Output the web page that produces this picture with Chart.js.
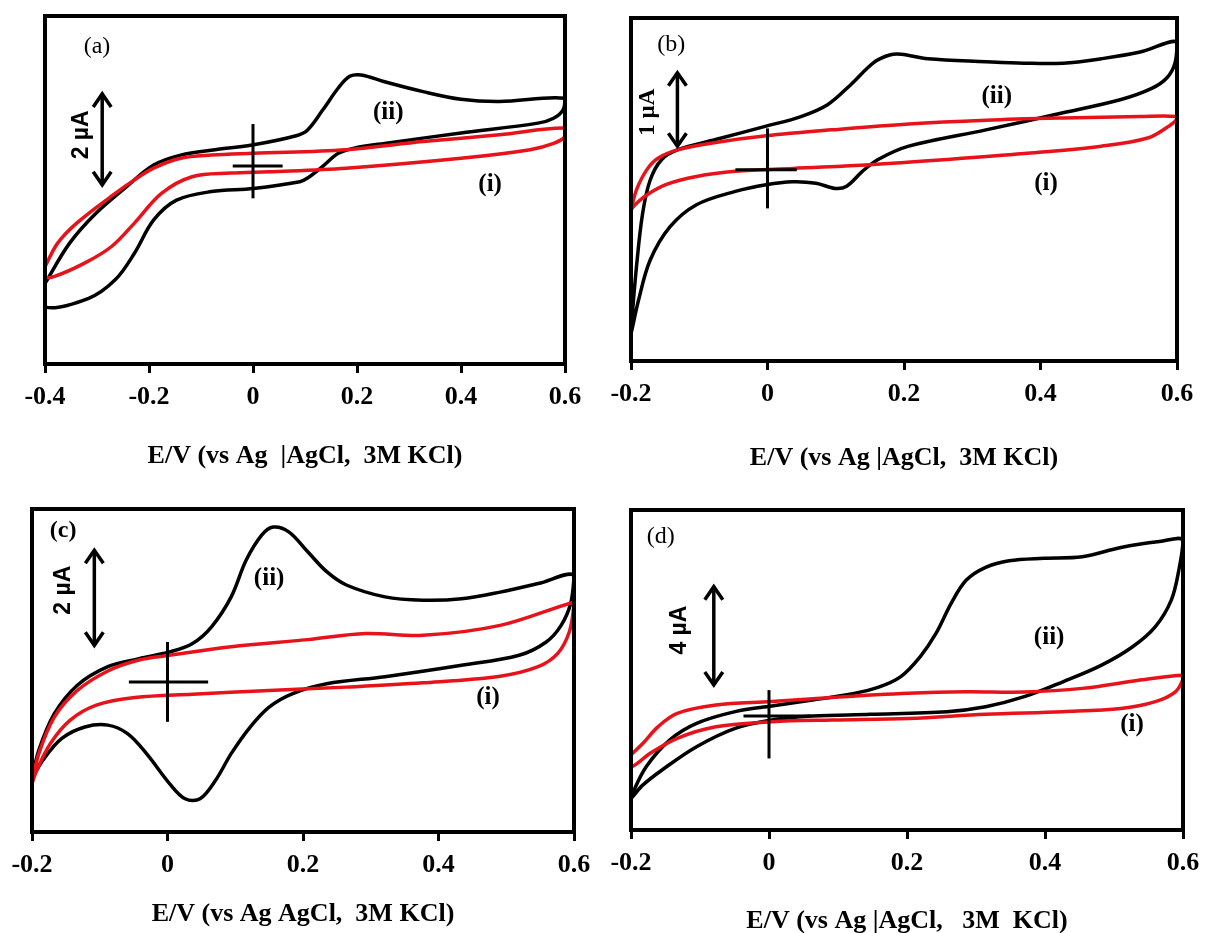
<!DOCTYPE html>
<html>
<head>
<meta charset="utf-8">
<script src="https://cdn.jsdelivr.net/npm/chart.js@4.4.1/dist/chart.umd.min.js"></script>
<style>
  body { margin: 0; background: #fff; width: 1206px; height: 933px; overflow: hidden; position: relative; }
  canvas { position: absolute; }
</style>
</head>
<body>
<canvas id="chartA"></canvas>
<canvas id="chartB"></canvas>
<canvas id="chartC"></canvas>
<canvas id="chartD"></canvas>
<script>
// E in V, I in uA (zero at the cross mark)
const ticksA = [-0.4, -0.2, 0, 0.2, 0.4, 0.6];
const ticksBCD = [-0.2, 0, 0.2, 0.4, 0.6];

// (a)
const aBlackE = [-0.4,-0.353,-0.302,-0.243,-0.191,-0.139,-0.073,0.001,0.083,0.105,0.134,0.164,0.186,0.208,0.253,0.327,0.4,0.474,0.6,
  0.596,0.578,0.548,0.4,0.253,0.193,0.164,0.134,0.105,0.09,0.001,-0.08,-0.147,-0.191,-0.228,-0.265,-0.316,-0.4,-0.4];
const aBlackI = [-2.61,-1.72,-1.05,-0.46,0.02,0.24,0.36,0.47,0.67,0.80,1.24,1.73,1.99,2.02,1.87,1.65,1.48,1.43,1.50,
  1.24,1.06,0.95,0.73,0.50,0.39,0.28,-0.01,-0.27,-0.35,-0.50,-0.57,-0.76,-1.2,-1.94,-2.53,-2.94,-3.13,-2.61];
const aRedE = [-0.4,-0.376,-0.339,-0.265,-0.228,-0.191,-0.139,-0.08,0.001,0.179,0.327,0.474,0.6,
  0.6,0.578,0.533,0.4,0.179,0.031,-0.043,-0.117,-0.176,-0.228,-0.272,-0.324,-0.383,-0.4,-0.4];
const aRedI = [-2.24,-1.72,-1.27,-0.61,-0.31,-0.05,0.17,0.24,0.28,0.36,0.54,0.69,0.84,
  0.65,0.50,0.36,0.17,-0.05,-0.13,-0.16,-0.24,-0.61,-1.27,-1.79,-2.16,-2.46,-2.46,-2.24];

// (b)
const bBlackE = [-0.2,-0.192,-0.183,-0.172,-0.155,-0.132,-0.076,-0.002,0.049,0.088,0.122,0.156,0.179,0.196,0.235,0.32,0.376,0.433,0.489,0.546,0.6,
  0.597,0.585,0.563,0.518,0.433,0.32,0.207,0.162,0.139,0.116,0.099,0.071,0.037,-0.002,-0.047,-0.104,-0.143,-0.172,-0.189,-0.2,-0.2];
const bBlackI = [-2.16,-1.31,-0.59,-0.14,0.14,0.27,0.41,0.59,0.72,0.88,1.15,1.45,1.55,1.56,1.50,1.46,1.44,1.44,1.50,1.59,1.73,
  1.44,1.24,1.10,0.95,0.77,0.54,0.32,0.14,-0.02,-0.22,-0.25,-0.18,-0.16,-0.20,-0.29,-0.47,-0.77,-1.22,-1.76,-2.21,-2.16];
const bRedE = [-0.2,-0.192,-0.177,-0.16,-0.132,-0.076,-0.002,0.094,0.207,0.32,0.433,0.546,0.6,
  0.6,0.588,0.557,0.489,0.376,0.263,0.15,0.037,-0.047,-0.104,-0.149,-0.177,-0.194,-0.2];
const bRedI = [-0.54,-0.27,0.0,0.16,0.27,0.37,0.46,0.54,0.62,0.67,0.70,0.72,0.72,
  0.68,0.59,0.43,0.32,0.22,0.14,0.07,0.02,-0.02,-0.09,-0.20,-0.34,-0.47,-0.54];

// (c)
const cBlackE = [-0.2,-0.19,-0.167,-0.133,-0.088,-0.042,0.003,0.037,0.065,0.094,0.116,0.139,0.156,0.179,0.207,0.235,0.264,0.321,0.377,0.434,0.491,0.547,0.6,
  0.595,0.581,0.559,0.519,0.434,0.321,0.235,0.184,0.15,0.122,0.094,0.071,0.048,0.026,0.003,-0.031,-0.059,-0.088,-0.122,-0.156,-0.184,-0.2];
const cBlackI = [-2.04,-1.44,-0.67,-0.07,0.32,0.49,0.63,0.81,1.16,1.79,2.56,3.09,3.26,3.16,2.74,2.32,2.04,1.79,1.72,1.75,1.89,2.07,2.25,
  1.65,1.19,0.84,0.56,0.35,0.11,-0.04,-0.25,-0.53,-0.95,-1.51,-2.07,-2.46,-2.46,-2.14,-1.51,-1.09,-0.91,-0.95,-1.19,-1.65,-2.04];
const cRedE = [-0.2,-0.19,-0.167,-0.133,-0.088,-0.042,0.003,0.094,0.207,0.292,0.377,0.491,0.6,
  0.6,0.593,0.576,0.547,0.491,0.377,0.264,0.15,0.037,-0.048,-0.105,-0.144,-0.173,-0.193,-0.2];
const cRedI = [-2.14,-1.51,-0.74,-0.18,0.23,0.46,0.56,0.74,0.89,1.02,0.98,1.19,1.68,
  1.61,1.05,0.60,0.32,0.12,-0.02,-0.11,-0.18,-0.26,-0.33,-0.49,-0.81,-1.30,-1.86,-2.14];

// (d)
const dBlackE = [-0.2,-0.178,-0.144,-0.105,-0.049,0.004,0.063,0.119,0.158,0.191,0.219,0.242,0.264,0.286,0.314,0.348,0.398,0.454,0.51,0.566,0.6,
  0.594,0.583,0.56,0.527,0.482,0.426,0.37,0.314,0.258,0.147,0.063,0.004,-0.049,-0.105,-0.155,-0.183,-0.2,-0.2];
const dBlackI = [-3.27,-2.07,-0.98,-0.30,0.18,0.41,0.65,0.90,1.17,1.61,2.42,3.37,4.60,5.55,6.07,6.34,6.44,6.50,6.88,7.12,7.18,
  5.96,4.73,3.65,2.83,2.08,1.40,0.79,0.38,0.18,0.07,0.0,-0.16,-0.50,-1.25,-2.20,-2.82,-3.36,-3.27];
const dRedE = [-0.2,-0.183,-0.161,-0.133,-0.077,0.004,0.091,0.202,0.286,0.37,0.454,0.538,0.6,
  0.6,0.589,0.56,0.51,0.426,0.314,0.202,0.091,0.004,-0.077,-0.133,-0.172,-0.2,-0.2];
const dRedI = [-1.59,-1.12,-0.44,0.11,0.45,0.59,0.76,0.93,0.99,0.98,1.13,1.47,1.67,
  1.50,0.99,0.59,0.31,0.18,0.07,-0.10,-0.16,-0.23,-0.44,-0.91,-1.52,-2.07,-1.59];

const axisTitleA = 'E/V (vs Ag  |AgCl,  3M KCl)';
const axisTitleB = 'E/V (vs Ag |AgCl,  3M KCl)';
const axisTitleC = 'E/V (vs Ag AgCl,  3M KCl)';
const axisTitleD = 'E/V (vs Ag |AgCl,   3M  KCl)';

const serif = '"Liberation Serif", "Times New Roman", serif';
const sans = '"Liberation Sans", Arial, sans-serif';

const panels = [
  { id: 'chartA', L: 45, R: 565, T: 16, B: 364, titleY: 456, xMin: -0.4, yMin: -4.40, yMax: 3.33, ticks: ticksA,
    black: [aBlackE, aBlackI], red: [aRedE, aRedI], title: axisTitleA,
    cross: { x0: -0.039, x1: 0.057, y0: -0.72, y1: 0.93 }, arrow: { x: -0.29, y0: -0.42, y1: 1.6 },
    texts: [
      { t: '(a)', x: -0.3, y: 2.64, font: 'normal 24px ' + serif },
      { t: '(ii)', x: 0.26, y: 1.18, font: 'bold 25px ' + serif },
      { t: '(i)', x: 0.456, y: -0.42, font: 'bold 25px ' + serif },
      { t: '2 µA', x: -0.329, y: 0.69, font: 'bold 23px ' + sans, rot: true }
    ] },
  { id: 'chartB', L: 631, R: 1177, T: 18, B: 361, titleY: 458, xMin: -0.2, yMin: -2.58, yMax: 2.05, ticks: ticksBCD,
    black: [bBlackE, bBlackI], red: [bRedE, bRedI], title: axisTitleB,
    cross: { x0: -0.047, x1: 0.043, y0: -0.52, y1: 0.56 }, arrow: { x: -0.132, y0: 0.32, y1: 1.31 },
    texts: [
      { t: '(b)', x: -0.141, y: 1.69, font: 'normal 24px ' + serif },
      { t: '(ii)', x: 0.336, y: 0.99, font: 'bold 25px ' + serif },
      { t: '(i)', x: 0.408, y: -0.18, font: 'bold 25px ' + serif },
      { t: '1 µA', x: -0.175, y: 0.78, font: 'bold 23px ' + serif, rot: true }
    ] },
  { id: 'chartC', L: 32, R: 574, T: 509, B: 832, titleY: 914, xMin: -0.2, yMin: -3.16, yMax: 3.64, ticks: ticksBCD,
    black: [cBlackE, cBlackI], red: [cRedE, cRedI], title: axisTitleC,
    cross: { x0: -0.057, x1: 0.06, y0: -0.84, y1: 0.84 }, arrow: { x: -0.108, y0: 0.77, y1: 2.77 },
    texts: [
      { t: '(c)', x: -0.154, y: 3.19, font: 'bold 24px ' + serif },
      { t: '(ii)', x: 0.15, y: 2.18, font: 'bold 25px ' + serif },
      { t: '(i)', x: 0.473, y: -0.32, font: 'bold 25px ' + serif },
      { t: '2 µA', x: -0.154, y: 1.93, font: 'bold 23px ' + sans, rot: true }
    ] },
  { id: 'chartD', L: 631, R: 1183, T: 510, B: 830, titleY: 921, xMin: -0.2, yMin: -4.65, yMax: 8.41, ticks: ticksBCD,
    black: [dBlackE, dBlackI], red: [dRedE, dRedI], title: axisTitleD,
    cross: { x0: -0.037, x1: 0.06, y0: -1.73, y1: 1.06 }, arrow: { x: -0.08, y0: 1.27, y1: 5.28 },
    texts: [
      { t: '(d)', x: -0.157, y: 7.3, font: 'normal 24px ' + serif },
      { t: '(ii)', x: 0.406, y: 3.22, font: 'bold 25px ' + serif },
      { t: '(i)', x: 0.526, y: -0.33, font: 'bold 25px ' + serif },
      { t: '4 µA', x: -0.13, y: 3.51, font: 'bold 23px ' + sans, rot: true }
    ] }
];

function toPoints(xs, ys) {
  return xs.map((x, i) => ({ x: x, y: ys[i] }));
}

// frame, arrow heads and free text
const decorations = {
  id: 'decorations',
  afterDatasetsDraw(chart) {
    const ctx = chart.ctx;
    const a = chart.chartArea;
    const xs = chart.scales.x, ys = chart.scales.y;
    const cfg = chart.options.plugins.decorations;
    ctx.save();
    ctx.strokeStyle = '#000';
    ctx.lineWidth = 4;
    ctx.strokeRect(a.left, a.top, a.right - a.left, a.bottom - a.top);

    const ax = xs.getPixelForValue(cfg.arrow.x);
    const top = ys.getPixelForValue(cfg.arrow.y1);
    const bot = ys.getPixelForValue(cfg.arrow.y0);
    ctx.lineWidth = 3.5;
    ctx.beginPath();
    ctx.moveTo(ax - 9, top + 13); ctx.lineTo(ax, top); ctx.lineTo(ax + 9, top + 13);
    ctx.moveTo(ax - 9, bot - 13); ctx.lineTo(ax, bot); ctx.lineTo(ax + 9, bot - 13);
    ctx.stroke();

    ctx.fillStyle = '#000';
    ctx.textAlign = 'center';
    ctx.textBaseline = 'middle';
    for (const tx of cfg.texts) {
      const px = xs.getPixelForValue(tx.x), py = ys.getPixelForValue(tx.y);
      ctx.font = tx.font;
      if (tx.rot) {
        ctx.save();
        ctx.translate(px, py);
        ctx.rotate(-Math.PI / 2);
        ctx.fillText(tx.t, 0, 0);
        ctx.restore();
      } else {
        ctx.fillText(tx.t, px, py);
      }
    }
    ctx.restore();
  }
};

function makePanel(p) {
  const canvas = document.getElementById(p.id);
  const padL = 34, padR = 34, padT = 12;
  const axisH = p.titleY - p.B + 20;
  canvas.width = p.R - p.L + padL + padR;
  canvas.height = p.B - p.T + padT + axisH;
  canvas.style.left = (p.L - padL) + 'px';
  canvas.style.top = (p.T - padT) + 'px';

  const line = (data, color, width) => ({
    data: data, showLine: true, borderColor: color, borderWidth: width,
    pointRadius: 0, tension: 0.35, fill: false
  });

  new Chart(canvas, {
    type: 'scatter',
    data: {
      datasets: [
        line([{ x: 0, y: p.cross.y0 }, { x: 0, y: p.cross.y1 }], '#000', 3),
        line([{ x: p.cross.x0, y: 0 }, { x: p.cross.x1, y: 0 }], '#000', 3),
        line([{ x: p.arrow.x, y: p.arrow.y0 }, { x: p.arrow.x, y: p.arrow.y1 }], '#000', 3.5),
        line(toPoints(p.red[0], p.red[1]), '#e8121a', 3.5),
        line(toPoints(p.black[0], p.black[1]), '#000', 3.5)
      ]
    },
    options: {
      responsive: false,
      animation: false,
      layout: { padding: { left: padL, right: padR, top: padT, bottom: 0 } },
      plugins: {
        legend: { display: false },
        tooltip: { enabled: false },
        decorations: { arrow: p.arrow, texts: p.texts }
      },
      scales: {
        x: {
          type: 'linear', min: p.xMin, max: 0.6,
          afterBuildTicks: (axis) => { axis.ticks = p.ticks.map(v => ({ value: v })); },
          afterFit: (axis) => { axis.height = axisH; },
          border: { display: false },
          grid: { drawOnChartArea: false, drawTicks: true, tickLength: 9, tickWidth: 3, tickColor: '#000' },
          ticks: {
            color: '#000', padding: 9, maxRotation: 0,
            font: { family: serif, size: 26, weight: 'bold' },
            callback: (v) => (v === 0 ? '0' : Number(v).toFixed(1))
          },
          title: {
            display: true, text: p.title, color: '#000',
            font: { family: serif, size: 26, weight: 'bold' },
            padding: { top: 0, bottom: 4 }
          }
        },
        y: { type: 'linear', min: p.yMin, max: p.yMax, display: false }
      }
    },
    plugins: [decorations]
  });
}

panels.forEach(makePanel);
</script>
</body>
</html>
